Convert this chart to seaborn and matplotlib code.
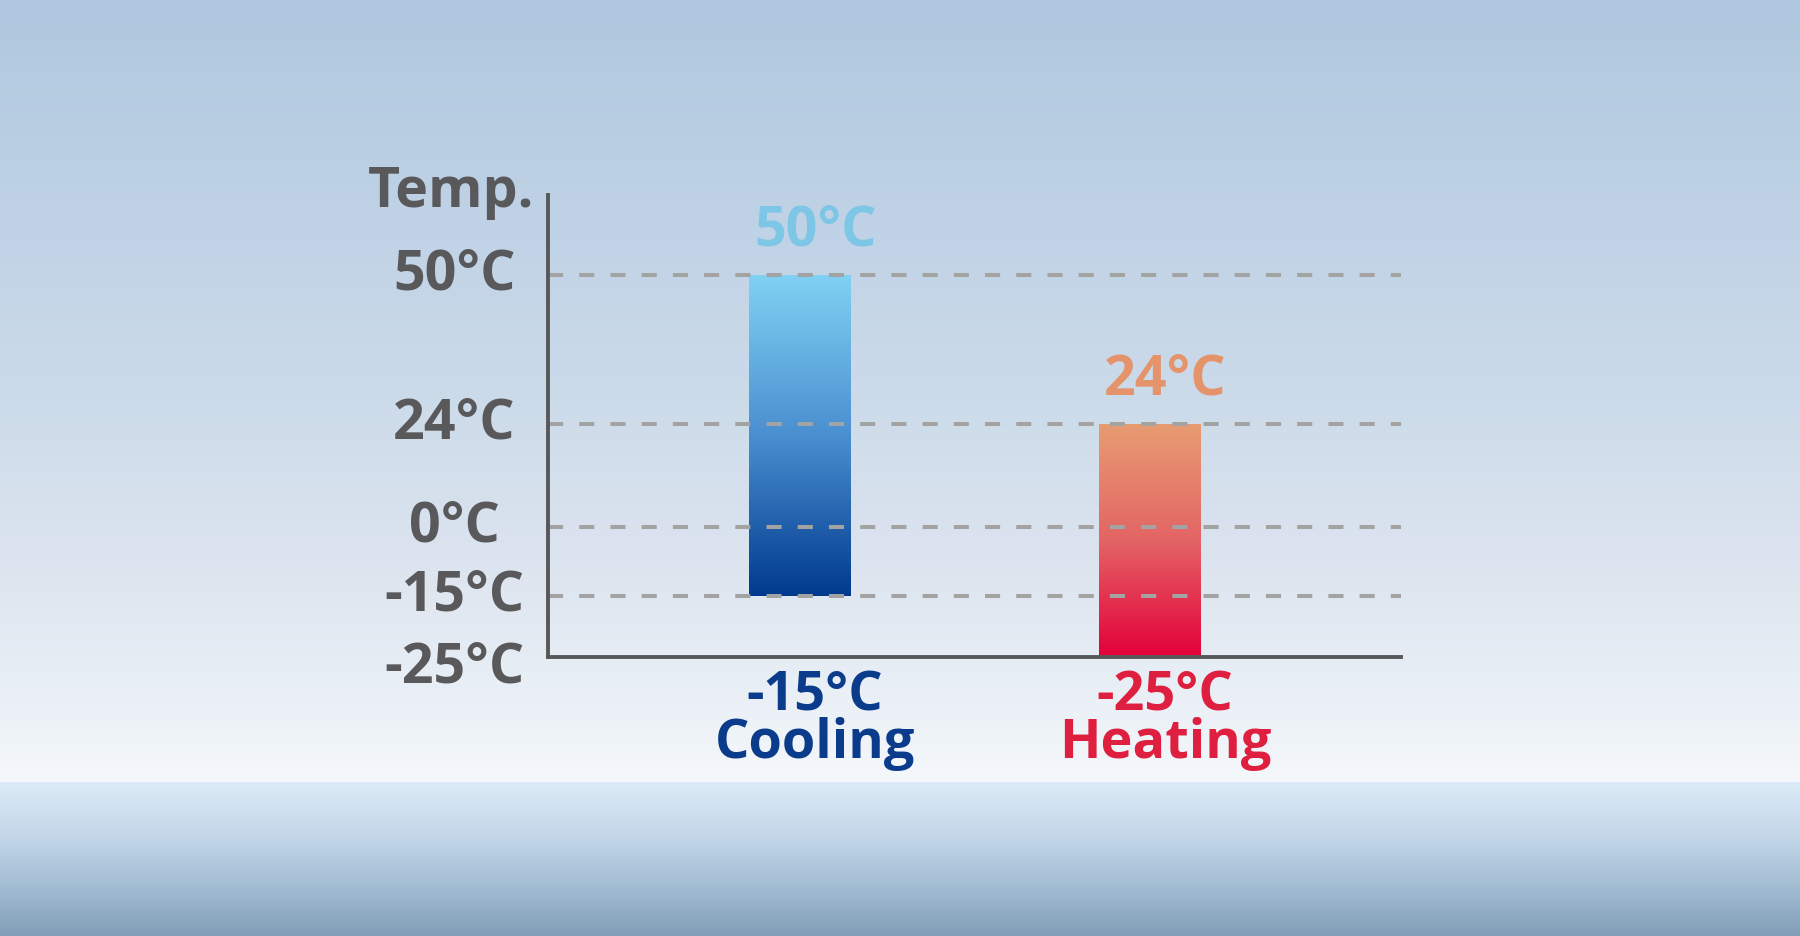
import numpy as np
import matplotlib
matplotlib.use("Agg")
import matplotlib.pyplot as plt
from matplotlib.colors import LinearSegmentedColormap
from matplotlib.transforms import ScaledTranslation
import seaborn as sns

# --- data ---
modes = ["Cooling", "Heating"]
low_temps = [-15, -25]
high_temps = [50, 24]
ytick_values = [-25, -15, 0, 24, 50]

label_colors = ["#0b3c8c", "#df1f3f"]
top_label_colors = ["#7ec6e6", "#e5936b"]
bar_gradients = [["#80d1f3", "#4a8fd0", "#003a8e"],
                 ["#e79c72", "#e36465", "#e4003a"]]

# non-linear temperature axis (temperature -> relative height on the axis)
scale_temps = [-25, -15, 0, 24, 50, 64]
scale_pos = [0, 61, 130, 233, 382, 462]


def forward(v):
    return np.interp(v, scale_temps, scale_pos)


def inverse(p):
    return np.interp(p, scale_pos, scale_temps)


sns.set_theme(style="white")
plt.rcParams["font.family"] = ["Open Sans", "DejaVu Sans"]
plt.rcParams["font.weight"] = "bold"
plt.rcParams["axes.labelweight"] = "bold"

fig = plt.figure(figsize=(18, 9.36), dpi=100)

# background gradient
bg = fig.add_axes([0, 0, 1, 1], zorder=-1)
stops = [(0, "#afc8df"), (200, "#bed1e5"), (400, "#ccdbea"), (560, "#dce4ef"),
         (700, "#eaf0f6"), (781, "#f5f8fb"), (782, "#dcebf7"), (830, "#c6d9ea"),
         (880, "#a7c0d6"), (936, "#809eb8")]
rows = np.arange(936)
rgb = np.array([matplotlib.colors.to_rgb(c) for _, c in stops])
ys = [s for s, _ in stops]
grad_bg = np.stack([np.interp(rows, ys, rgb[:, k]) for k in range(3)], axis=1)
bg.imshow(grad_bg[:, None, :], aspect="auto", extent=[0, 1, 0, 1])
bg.axis("off")

ax = fig.add_axes([0.3042, 0.2985, 0.4739, 0.4932])
ax.set_facecolor("none")

spans = np.subtract(high_temps, low_temps)
sns.barplot(x=modes, y=spans, bottom=low_temps, order=modes, errorbar=None,
            width=0.29, color="#3f80c6", ax=ax)

ax.set_yscale("function", functions=(forward, inverse))
ax.set_ylim(-25, 64)
ax.set_xlim(-0.721, 1.716)
ax.set_autoscale_on(False)

# axes styling
for side in ["top", "right"]:
    ax.spines[side].set_visible(False)
for side in ["left", "bottom"]:
    ax.spines[side].set_color("#58585a")
    ax.spines[side].set_linewidth(2.8)
    ax.spines[side].set_zorder(4)

ax.set_yticks(ytick_values, [f"{t}°C" for t in ytick_values])
ax.tick_params(axis="y", length=0, pad=67, labelsize=40, labelcolor="#59595b")
ax.tick_params(axis="x", length=0, pad=9, labelsize=39)
for lbl in ax.get_yticklabels():
    lbl.set_horizontalalignment("center")
    lbl.set_verticalalignment("center")
# the lowest label sits just under the x axis
low_lbl = ax.get_yticklabels()[0]
low_lbl.set_transform(low_lbl.get_transform()
                      + ScaledTranslation(0, -0.11, fig.dpi_scale_trans))

ax.set_axisbelow(False)
ax.yaxis.grid(True, color="#a3a3a3", linewidth=2.9, linestyle=(0, (3.75, 4.0)))
ax.xaxis.grid(False)
ax.yaxis.get_gridlines()[0].set_visible(False)

ax.set_xlabel("")
ax.set_ylabel("Temp.", rotation=0, fontsize=40, fontweight="bold", color="#59595b",
              ha="right", va="baseline")
ax.yaxis.set_label_coords(-0.016, 0.974)

# x labels: temperature + mode
ax.set_xticks(range(len(modes)),
              [f"{lo}°C\n{m}" for lo, m in zip(low_temps, modes)])
shift = ScaledTranslation(0.15, 0, fig.dpi_scale_trans)
for lbl, c in zip(ax.get_xticklabels(), label_colors):
    lbl.set_color(c)
    lbl.set_linespacing(0.86)
    lbl.set_transform(lbl.get_transform() + shift)

# gradient fill of the bars
for patch, cols in zip(ax.patches, bar_gradients):
    patch.set_facecolor("none")
    patch.set_edgecolor("none")
    cmap = LinearSegmentedColormap.from_list("g", cols)
    bb = patch.get_window_extent().transformed(ax.transAxes.inverted())
    grad = np.linspace(0, 1, 256)[:, None]
    ax.imshow(grad, cmap=cmap, aspect="auto", transform=ax.transAxes,
              extent=[bb.x0, bb.x1, bb.y0, bb.y1], clip_path=patch, zorder=1.5)

# value on top of each bar
for i, (hi, c) in enumerate(zip(high_temps, top_label_colors)):
    ax.annotate(f"{hi}°C", xy=(i, hi), xytext=(11, 21), textcoords="offset points",
                ha="center", va="baseline", fontsize=40, color=c)

fig.savefig("out.png", dpi=100)
